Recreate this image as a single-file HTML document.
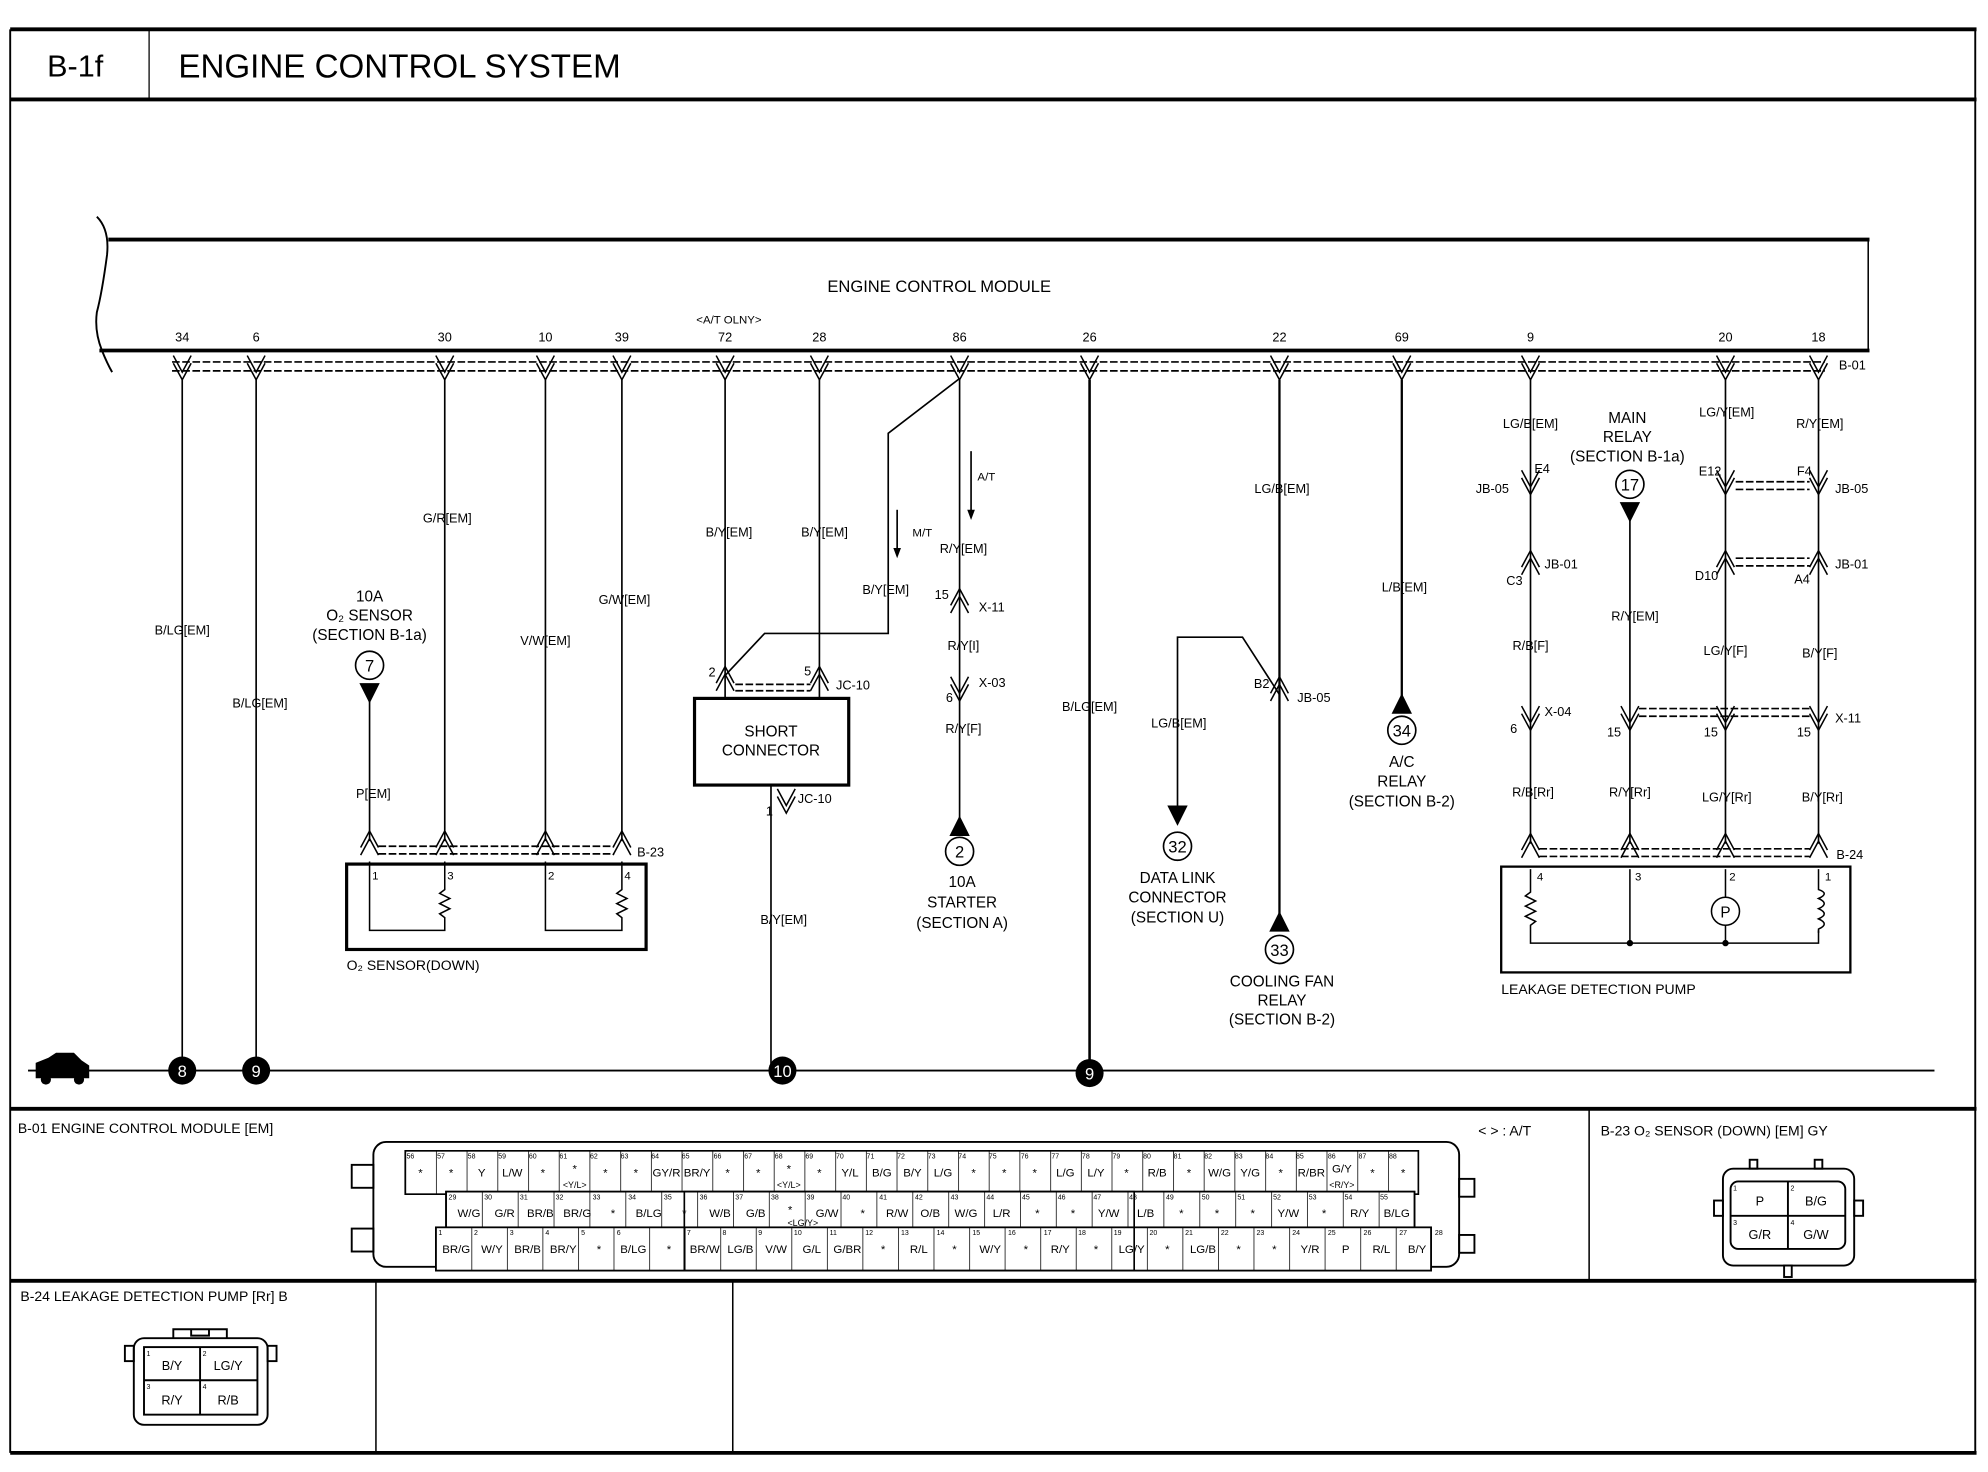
<!DOCTYPE html>
<html><head><meta charset="utf-8"><style>
html,body{margin:0;padding:0;background:#fff;}
svg{display:block;}
text{font-family:"Liberation Sans",sans-serif;fill:#000;}
.t{font-size:10px;text-anchor:middle;}
.s{font-size:12px;text-anchor:middle;}
.l{font-size:10px;text-anchor:start;}
.n{font-size:5.5px;text-anchor:start;}
.c{font-size:9px;text-anchor:middle;}
</style></head><body>
<svg width="1988" height="1472" viewBox="0 0 1560 1155" preserveAspectRatio="none" xmlns="http://www.w3.org/2000/svg">
<defs>
<path id="ch" d="M-7,-7 L0,6 L7,-7 M-7,-1 L0,12 L7,-1" fill="none" stroke="#000" stroke-width="1.2"/>
<path id="cu" d="M-7,7 L0,-6 L7,7 M-7,1 L0,-12 L7,1" fill="none" stroke="#000" stroke-width="1.2"/>
<pattern id="p1" x="318" y="0" width="24.1" height="50" patternUnits="userSpaceOnUse"><line x1="0" y1="0" x2="0" y2="50" stroke="#000" stroke-width="1.2"/></pattern>
<pattern id="p2" x="350" y="0" width="28.15" height="50" patternUnits="userSpaceOnUse"><line x1="0" y1="0" x2="0" y2="50" stroke="#000" stroke-width="1.2"/></pattern>
<pattern id="p3" x="342" y="0" width="27.9" height="50" patternUnits="userSpaceOnUse"><line x1="0" y1="0" x2="0" y2="50" stroke="#000" stroke-width="1.2"/></pattern>
</defs>
<rect width="1560" height="1155" fill="#fff"/>
<!-- frame -->
<g stroke="#000" fill="none">
<line x1="8" y1="23" x2="1551" y2="23" stroke-width="3"/>
<line x1="8" y1="78" x2="1551" y2="78" stroke-width="3"/>
<line x1="8" y1="23" x2="8" y2="1140" stroke-width="1.5"/>
<line x1="1550" y1="23" x2="1550" y2="1140" stroke-width="1.5"/>
<line x1="117" y1="23" x2="117" y2="78" stroke-width="1"/>
<line x1="8" y1="870" x2="1551" y2="870" stroke-width="3"/>
<line x1="8" y1="1005" x2="1551" y2="1005" stroke-width="3"/>
<line x1="8" y1="1140" x2="1551" y2="1140" stroke-width="3"/>
<line x1="1247" y1="870" x2="1247" y2="1005" stroke-width="1.2"/>
<line x1="295" y1="1005" x2="295" y2="1140" stroke-width="1.2"/>
<line x1="575" y1="1005" x2="575" y2="1140" stroke-width="1.2"/>
</g>
<text x="37" y="60" style="font-size:24px">B-1f</text>
<text x="140" y="61" style="font-size:26px">ENGINE CONTROL SYSTEM</text>

<!-- ECM -->
<g stroke="#000" fill="none">
<line x1="85" y1="188" x2="1467" y2="188" stroke-width="3"/>
<line x1="1466" y1="188" x2="1466" y2="275" stroke-width="1.2"/>
<line x1="78" y1="275" x2="1467" y2="275" stroke-width="3"/>
<path d="M76,170 Q86,180 84,200 Q80,230 76,245 Q74,260 80,275 Q84,285 88,292" stroke-width="1.5"/>
<line x1="135" y1="284" x2="1432" y2="284" stroke-width="1.3" stroke-dasharray="6,2"/>
<line x1="135" y1="291" x2="1432" y2="291" stroke-width="1.3" stroke-dasharray="6,2"/>
</g>
<text x="737" y="229" class="s" style="font-size:13px">ENGINE CONTROL MODULE</text>
<text x="572" y="254" class="c">&lt;A/T OLNY&gt;</text>
<g class="t">
<text x="143" y="268">34</text><text x="201" y="268">6</text><text x="349" y="268">30</text><text x="428" y="268">10</text><text x="488" y="268">39</text><text x="569" y="268">72</text><text x="643" y="268">28</text><text x="753" y="268">86</text><text x="855" y="268">26</text><text x="1004" y="268">22</text><text x="1100" y="268">69</text><text x="1201" y="268">9</text><text x="1354" y="268">20</text><text x="1427" y="268">18</text>
</g>
<text x="1443" y="290" class="l">B-01</text>
<g>
<use href="#ch" x="143" y="286"/><use href="#ch" x="201" y="286"/><use href="#ch" x="349" y="286"/><use href="#ch" x="428" y="286"/><use href="#ch" x="488" y="286"/><use href="#ch" x="569" y="286"/><use href="#ch" x="643" y="286"/><use href="#ch" x="753" y="286"/><use href="#ch" x="855" y="286"/><use href="#ch" x="1004" y="286"/><use href="#ch" x="1100" y="286"/><use href="#ch" x="1201" y="286"/><use href="#ch" x="1354" y="286"/><use href="#ch" x="1427" y="286"/>
</g>

<!-- wires -->
<g stroke="#000" fill="none" stroke-width="1.3">
<line x1="143" y1="298" x2="143" y2="840"/>
<line x1="201" y1="298" x2="201" y2="840"/>
<line x1="349" y1="298" x2="349" y2="660"/>
<line x1="428" y1="298" x2="428" y2="660"/>
<line x1="488" y1="298" x2="488" y2="660"/>
<line x1="290" y1="540" x2="290" y2="660"/>
<line x1="569" y1="298" x2="569" y2="548"/>
<line x1="643" y1="298" x2="643" y2="548"/>
<polyline points="753,297 697,340 697,497 600,497 569,530"/>
<line x1="753" y1="298" x2="753" y2="645"/>
<line x1="605" y1="616" x2="605" y2="840"/>
<line x1="855" y1="298" x2="855" y2="840" stroke-width="2"/>
<line x1="1004" y1="298" x2="1004" y2="725" stroke-width="1.8"/>
<polyline points="1004,545 975,500 924,500 924,635"/>
<line x1="1100" y1="298" x2="1100" y2="555" stroke-width="1.8"/>
<line x1="1201" y1="298" x2="1201" y2="662"/>
<line x1="1279" y1="405" x2="1279" y2="662"/>
<line x1="1354" y1="298" x2="1354" y2="662"/>
<line x1="1427" y1="298" x2="1427" y2="662"/>
<line x1="704" y1="400" x2="704" y2="432"/>
<line x1="762" y1="354" x2="762" y2="402"/>
<line x1="22" y1="840" x2="1518" y2="840" stroke-width="1.5"/>
</g>
<path d="M701,430 L704,438 L707,430Z M759,400 L762,408 L765,400Z" fill="#000"/>
<!-- wire labels -->
<g class="t">
<text x="143" y="498">B/LG[EM]</text>
<text x="204" y="555">B/LG[EM]</text>
<text x="351" y="410">G/R[EM]</text>
<text x="428" y="506">V/W[EM]</text>
<text x="490" y="474">G/W[EM]</text>
<text x="293" y="626">P[EM]</text>
<text x="572" y="421">B/Y[EM]</text>
<text x="647" y="421">B/Y[EM]</text>
<text x="695" y="466">B/Y[EM]</text>
<text x="756" y="434">R/Y[EM]</text>
<text x="756" y="510">R/Y[I]</text>
<text x="756" y="575">R/Y[F]</text>
<text x="615" y="725">B/Y[EM]</text>
<text x="855" y="558">B/LG[EM]</text>
<text x="1006" y="387">LG/B[EM]</text>
<text x="925" y="571">LG/B[EM]</text>
<text x="1102" y="464">L/B[EM]</text>
<text x="1201" y="336">LG/B[EM]</text>
<text x="1201" y="510">R/B[F]</text>
<text x="1203" y="625">R/B[Rr]</text>
<text x="1283" y="487">R/Y[EM]</text>
<text x="1279" y="625">R/Y[Rr]</text>
<text x="1355" y="327">LG/Y[EM]</text>
<text x="1354" y="514">LG/Y[F]</text>
<text x="1355" y="629">LG/Y[Rr]</text>
<text x="1428" y="336">R/Y[EM]</text>
<text x="1428" y="516">B/Y[F]</text>
<text x="1430" y="629">B/Y[Rr]</text>
</g>
<text x="716" y="421" class="l" style="font-size:9px">M/T</text>
<text x="767" y="377" class="l" style="font-size:9px">A/T</text>

<!-- inline connectors -->
<use href="#cu" x="753" y="474"/>
<text x="739" y="470" class="t">15</text><text x="768" y="480" class="l">X-11</text>
<use href="#ch" x="753" y="538"/>
<text x="745" y="551" class="t">6</text><text x="768" y="539" class="l">X-03</text>
<use href="#cu" x="1004" y="543"/>
<text x="990" y="540" class="t">B2</text><text x="1018" y="551" class="l">JB-05</text>
<!-- right side connectors -->
<use href="#ch" x="1201" y="376"/><use href="#ch" x="1354" y="376"/><use href="#ch" x="1427" y="376"/>
<use href="#cu" x="1201" y="444"/><use href="#cu" x="1354" y="444"/><use href="#cu" x="1427" y="444"/>
<use href="#ch" x="1201" y="561"/><use href="#ch" x="1279" y="561"/><use href="#ch" x="1354" y="561"/><use href="#ch" x="1427" y="561"/>
<g stroke="#000" stroke-width="1.3" stroke-dasharray="6,2" fill="none">
<line x1="1362" y1="378" x2="1420" y2="378"/><line x1="1362" y1="384" x2="1420" y2="384"/>
<line x1="1362" y1="438" x2="1420" y2="438"/><line x1="1362" y1="444" x2="1420" y2="444"/>
<line x1="1286" y1="556" x2="1420" y2="556"/><line x1="1286" y1="562" x2="1420" y2="562"/>
</g>
<g class="l">
<text x="1204" y="371">E4</text><text x="1158" y="387">JB-05</text>
<text x="1212" y="446">JB-01</text><text x="1182" y="459">C3</text>
<text x="1212" y="562">X-04</text><text x="1185" y="575">6</text>
<text x="1333" y="373">E12</text><text x="1330" y="455">D10</text><text x="1337" y="578">15</text><text x="1261" y="578">15</text>
<text x="1410" y="373">F4</text><text x="1440" y="387">JB-05</text>
<text x="1440" y="446">JB-01</text><text x="1408" y="458">A4</text>
<text x="1440" y="567">X-11</text><text x="1410" y="578">15</text>
</g>

<!-- O2 sensor -->
<use href="#cu" x="290" y="664"/><use href="#cu" x="349" y="664"/><use href="#cu" x="428" y="664"/><use href="#cu" x="488" y="664"/>
<g stroke="#000" stroke-width="1.3" stroke-dasharray="6,2" fill="none">
<line x1="297" y1="664" x2="482" y2="664"/><line x1="297" y1="670" x2="482" y2="670"/>
</g>
<text x="500" y="672" class="l">B-23</text>
<rect x="272" y="678" width="235" height="67" fill="none" stroke="#000" stroke-width="2.5"/>
<g class="l" style="font-size:9px"><text x="292" y="690">1</text><text x="351" y="690">3</text><text x="430" y="690">2</text><text x="490" y="690">4</text></g>
<g stroke="#000" fill="none" stroke-width="1.2">
<polyline points="290,676 290,730 349,730 349,720 345,717 353,713 345,709 353,705 345,701 349,698 349,676"/>
<polyline points="428,676 428,730 488,730 488,720 484,717 492,713 484,709 492,705 484,701 488,698 488,676"/>
</g>
<text x="272" y="761" class="l" style="font-size:11px">O₂ SENSOR(DOWN)</text>
<circle cx="290" cy="522" r="11" fill="#fff" stroke="#000" stroke-width="1.3"/>
<text x="290" y="527" class="s" style="font-size:13px">7</text>
<path d="M282,536 L298,536 L290,552Z" fill="#000"/>
<g class="s"><text x="290" y="472">10A</text><text x="290" y="487">O₂ SENSOR</text><text x="290" y="502">(SECTION B-1a)</text></g>

<!-- short connector -->
<use href="#cu" x="569" y="535"/><use href="#cu" x="643" y="535"/>
<g stroke="#000" stroke-width="1.3" stroke-dasharray="6,2" fill="none">
<line x1="577" y1="537" x2="636" y2="537"/><line x1="577" y1="542" x2="636" y2="542"/>
</g>
<text x="556" y="531" class="l">2</text><text x="631" y="530" class="l">5</text><text x="656" y="541" class="l">JC-10</text>
<rect x="545" y="548" width="121" height="68" fill="#fff" stroke="#000" stroke-width="2.5"/>
<text x="605" y="578" class="s">SHORT</text><text x="605" y="593" class="s">CONNECTOR</text>
<use href="#ch" x="617" y="626"/>
<text x="601" y="640" class="l">1</text><text x="626" y="630" class="l">JC-10</text>

<!-- starter -->
<path d="M745,656 L761,656 L753,640Z" fill="#000"/>
<circle cx="753" cy="668" r="11" fill="#fff" stroke="#000" stroke-width="1.3"/>
<text x="753" y="673" class="s" style="font-size:13px">2</text>
<g class="s"><text x="755" y="696">10A</text><text x="755" y="712">STARTER</text><text x="755" y="728">(SECTION A)</text></g>

<!-- data link -->
<path d="M916,632 L932,632 L924,648Z" fill="#000"/>
<circle cx="924" cy="664" r="11" fill="#fff" stroke="#000" stroke-width="1.3"/>
<text x="924" y="669" class="s" style="font-size:13px">32</text>
<g class="s"><text x="924" y="693">DATA LINK</text><text x="924" y="708">CONNECTOR</text><text x="924" y="724">(SECTION U)</text></g>
<!-- cooling fan -->
<path d="M996,731 L1012,731 L1004,715Z" fill="#000"/>
<circle cx="1004" cy="745" r="11" fill="#fff" stroke="#000" stroke-width="1.3"/>
<text x="1004" y="750" class="s" style="font-size:13px">33</text>
<g class="s"><text x="1006" y="774">COOLING FAN</text><text x="1006" y="789">RELAY</text><text x="1006" y="804">(SECTION B-2)</text></g>
<!-- A/C relay -->
<path d="M1092,560 L1108,560 L1100,544Z" fill="#000"/>
<circle cx="1100" cy="573" r="11" fill="#fff" stroke="#000" stroke-width="1.3"/>
<text x="1100" y="578" class="s" style="font-size:13px">34</text>
<g class="s"><text x="1100" y="602">A/C</text><text x="1100" y="617">RELAY</text><text x="1100" y="633">(SECTION B-2)</text></g>
<!-- main relay -->
<circle cx="1279" cy="380" r="11" fill="#fff" stroke="#000" stroke-width="1.3"/>
<text x="1279" y="385" class="s" style="font-size:13px">17</text>
<path d="M1271,394 L1287,394 L1279,410Z" fill="#000"/>
<g class="s"><text x="1277" y="332">MAIN</text><text x="1277" y="347">RELAY</text><text x="1277" y="362">(SECTION B-1a)</text></g>

<!-- leakage pump -->
<use href="#cu" x="1201" y="666"/><use href="#cu" x="1279" y="666"/><use href="#cu" x="1354" y="666"/><use href="#cu" x="1427" y="666"/>
<g stroke="#000" stroke-width="1.3" stroke-dasharray="6,2" fill="none">
<line x1="1208" y1="666" x2="1420" y2="666"/><line x1="1208" y1="672" x2="1420" y2="672"/>
</g>
<text x="1441" y="674" class="l">B-24</text>
<rect x="1178" y="680" width="274" height="83" fill="none" stroke="#000" stroke-width="1.8"/>
<g class="l" style="font-size:9px"><text x="1206" y="691">4</text><text x="1283" y="691">3</text><text x="1357" y="691">2</text><text x="1432" y="691">1</text></g>
<g stroke="#000" fill="none" stroke-width="1.2">
<polyline points="1201,682 1201,700 1197,703 1205,707 1197,711 1205,715 1197,719 1205,723 1201,726 1201,740 1427,740 1427,730"/>
<line x1="1279" y1="682" x2="1279" y2="740"/>
<line x1="1354" y1="682" x2="1354" y2="704"/><line x1="1354" y1="726" x2="1354" y2="740"/>
<circle cx="1354" cy="715" r="11"/>
<path d="M1427,682 L1427,698 Q1436,701 1427,705 Q1436,709 1427,713 Q1436,717 1427,721 Q1436,725 1427,729 L1427,732"/>
</g>
<circle cx="1279" cy="740" r="2.5" fill="#000"/><circle cx="1354" cy="740" r="2.5" fill="#000"/>
<text x="1354" y="720" class="s">P</text>
<text x="1178" y="780" class="l" style="font-size:11px">LEAKAGE DETECTION PUMP</text>

<!-- ground nodes -->
<path d="M28,846 L28,834 L38,830 L44,826 L58,826 L64,832 L70,836 L70,846Z" fill="#000"/>
<circle cx="36" cy="847" r="4" fill="#000"/><circle cx="62" cy="847" r="4" fill="#000"/>
<g>
<circle cx="143" cy="840" r="11" fill="#000"/><text x="143" y="845" class="s" style="fill:#fff;font-size:13px">8</text>
<circle cx="201" cy="840" r="11" fill="#000"/><text x="201" y="845" class="s" style="fill:#fff;font-size:13px">9</text>
<circle cx="614" cy="840" r="11" fill="#000"/><text x="614" y="845" class="s" style="fill:#fff;font-size:13px">10</text>
<circle cx="855" cy="842" r="11" fill="#000"/><text x="855" y="847" class="s" style="fill:#fff;font-size:13px">9</text>
</g>

<!-- bottom panels -->
<text x="14" y="889" class="l" style="font-size:11px">B-01 ENGINE CONTROL MODULE [EM]</text>
<text x="1160" y="891" class="l" style="font-size:11px">&lt;   &gt; : A/T</text>
<text x="1256" y="891" class="l" style="font-size:11px">B-23 O₂ SENSOR (DOWN) [EM] GY</text>
<text x="16" y="1021" class="l" style="font-size:11px">B-24 LEAKAGE DETECTION PUMP [Rr] B</text>

<!-- B-01 connector -->
<g stroke="#000" fill="none" stroke-width="1.5">
<rect x="293" y="896" width="852" height="98" rx="10"/>
<rect x="276" y="914" width="17" height="18"/><rect x="276" y="964" width="17" height="18"/>
<rect x="1145" y="925" width="12" height="14"/><rect x="1145" y="969" width="12" height="14"/>
</g>
<rect x="318" y="903" width="795" height="34" fill="url(#p1)" stroke="#000" stroke-width="1.3"/>
<rect x="350" y="935" width="760" height="33" fill="#fff" stroke="#000" stroke-width="1.3"/>
<rect x="350" y="935" width="760" height="33" fill="url(#p2)" stroke="#000" stroke-width="1.3"/>
<rect x="342" y="963" width="781" height="34" fill="#fff" stroke="#000" stroke-width="1.3"/>
<rect x="342" y="963" width="781" height="34" fill="url(#p3)" stroke="#000" stroke-width="1.3"/>
<rect x="537" y="935" width="353" height="62" fill="none" stroke="#000" stroke-width="1.3"/>
<g class="c">
<text x="330" y="923">*</text><text x="354" y="923">*</text><text x="378" y="923">Y</text><text x="402" y="923">L/W</text><text x="426" y="923">*</text><text x="451" y="920">*</text><text x="475" y="923">*</text><text x="499" y="923">*</text><text x="523" y="923">GY/R</text><text x="547" y="923">BR/Y</text><text x="571" y="923">*</text><text x="595" y="923">*</text><text x="619" y="920">*</text><text x="643" y="923">*</text><text x="667" y="923">Y/L</text><text x="692" y="923">B/G</text><text x="716" y="923">B/Y</text><text x="740" y="923">L/G</text><text x="764" y="923">*</text><text x="788" y="923">*</text><text x="812" y="923">*</text><text x="836" y="923">L/G</text><text x="860" y="923">L/Y</text><text x="884" y="923">*</text><text x="908" y="923">R/B</text><text x="933" y="923">*</text><text x="957" y="923">W/G</text><text x="981" y="923">Y/G</text><text x="1005" y="923">*</text><text x="1029" y="923">R/BR</text><text x="1053" y="920">G/Y</text><text x="1077" y="923">*</text><text x="1101" y="923">*</text>
</g>
<g class="c" style="font-size:7px"><text x="451" y="932">&lt;Y/L&gt;</text><text x="619" y="932">&lt;Y/L&gt;</text><text x="1053" y="932">&lt;R/Y&gt;</text></g>
<g class="c">
<text x="368" y="955">W/G</text><text x="396" y="955">G/R</text><text x="424" y="955">BR/B</text><text x="453" y="955">BR/G</text><text x="481" y="955">*</text><text x="509" y="955">B/LG</text><text x="537" y="955">*</text><text x="565" y="955">W/B</text><text x="593" y="955">G/B</text><text x="620" y="952">*</text><text x="649" y="955">G/W</text><text x="677" y="955">*</text><text x="704" y="955">R/W</text><text x="730" y="955">O/B</text><text x="758" y="955">W/G</text><text x="786" y="955">L/R</text><text x="814" y="955">*</text><text x="842" y="955">*</text><text x="870" y="955">Y/W</text><text x="899" y="955">L/B</text><text x="927" y="955">*</text><text x="955" y="955">*</text><text x="983" y="955">*</text><text x="1011" y="955">Y/W</text><text x="1039" y="955">*</text><text x="1067" y="955">R/Y</text><text x="1096" y="955">B/LG</text>
</g>
<text x="630" y="962" class="c" style="font-size:7px">&lt;LG/Y&gt;</text>
<g class="c">
<text x="358" y="983">BR/G</text><text x="386" y="983">W/Y</text><text x="414" y="983">BR/B</text><text x="442" y="983">BR/Y</text><text x="470" y="983">*</text><text x="497" y="983">B/LG</text><text x="525" y="983">*</text><text x="553" y="983">BR/W</text><text x="581" y="983">LG/B</text><text x="609" y="983">V/W</text><text x="637" y="983">G/L</text><text x="665" y="983">G/BR</text><text x="693" y="983">*</text><text x="721" y="983">R/L</text><text x="749" y="983">*</text><text x="777" y="983">W/Y</text><text x="805" y="983">*</text><text x="832" y="983">R/Y</text><text x="860" y="983">*</text><text x="888" y="983">LG/Y</text><text x="916" y="983">*</text><text x="944" y="983">LG/B</text><text x="972" y="983">*</text><text x="1000" y="983">*</text><text x="1028" y="983">Y/R</text><text x="1056" y="983">P</text><text x="1084" y="983">R/L</text><text x="1112" y="983">B/Y</text>
</g>
<g class="n">
<text x="319" y="909">56</text><text x="343" y="909">57</text><text x="367" y="909">58</text><text x="391" y="909">59</text><text x="415" y="909">60</text><text x="439" y="909">61</text><text x="463" y="909">62</text><text x="487" y="909">63</text><text x="511" y="909">64</text><text x="535" y="909">65</text><text x="560" y="909">66</text><text x="584" y="909">67</text><text x="608" y="909">68</text><text x="632" y="909">69</text><text x="656" y="909">70</text><text x="680" y="909">71</text><text x="704" y="909">72</text><text x="728" y="909">73</text><text x="752" y="909">74</text><text x="776" y="909">75</text><text x="801" y="909">76</text><text x="825" y="909">77</text><text x="849" y="909">78</text><text x="873" y="909">79</text><text x="897" y="909">80</text><text x="921" y="909">81</text><text x="945" y="909">82</text><text x="969" y="909">83</text><text x="993" y="909">84</text><text x="1017" y="909">85</text><text x="1042" y="909">86</text><text x="1066" y="909">87</text><text x="1090" y="909">88</text>
<text x="352" y="941">29</text><text x="380" y="941">30</text><text x="408" y="941">31</text><text x="436" y="941">32</text><text x="465" y="941">33</text><text x="493" y="941">34</text><text x="521" y="941">35</text><text x="549" y="941">36</text><text x="577" y="941">37</text><text x="605" y="941">38</text><text x="633" y="941">39</text><text x="661" y="941">40</text><text x="690" y="941">41</text><text x="718" y="941">42</text><text x="746" y="941">43</text><text x="774" y="941">44</text><text x="802" y="941">45</text><text x="830" y="941">46</text><text x="858" y="941">47</text><text x="886" y="941">48</text><text x="915" y="941">49</text><text x="943" y="941">50</text><text x="971" y="941">51</text><text x="999" y="941">52</text><text x="1027" y="941">53</text><text x="1055" y="941">54</text><text x="1083" y="941">55</text>
<text x="344" y="969">1</text><text x="372" y="969">2</text><text x="400" y="969">3</text><text x="428" y="969">4</text><text x="456" y="969">5</text><text x="484" y="969">6</text><text x="539" y="969">7</text><text x="567" y="969">8</text><text x="595" y="969">9</text><text x="623" y="969">10</text><text x="651" y="969">11</text><text x="679" y="969">12</text><text x="707" y="969">13</text><text x="735" y="969">14</text><text x="763" y="969">15</text><text x="791" y="969">16</text><text x="819" y="969">17</text><text x="846" y="969">18</text><text x="874" y="969">19</text><text x="902" y="969">20</text><text x="930" y="969">21</text><text x="958" y="969">22</text><text x="986" y="969">23</text><text x="1014" y="969">24</text><text x="1042" y="969">25</text><text x="1070" y="969">26</text><text x="1098" y="969">27</text><text x="1126" y="969">28</text>
</g>

<!-- B-23 connector -->
<g stroke="#000" fill="none" stroke-width="1.5">
<rect x="1352" y="917" width="103" height="76" rx="8"/>
<rect x="1358" y="927" width="90" height="53" rx="6"/>
<line x1="1403" y1="927" x2="1403" y2="980"/><line x1="1358" y1="954" x2="1448" y2="954"/>
<rect x="1373" y="910" width="6" height="7"/><rect x="1424" y="910" width="6" height="7"/>
<rect x="1345" y="942" width="7" height="12"/><rect x="1455" y="942" width="7" height="12"/>
<rect x="1400" y="993" width="6" height="9"/>
</g>
<g class="c" style="font-size:10px"><text x="1381" y="946">P</text><text x="1425" y="946">B/G</text><text x="1381" y="972">G/R</text><text x="1425" y="972">G/W</text></g>
<g class="n"><text x="1360" y="934">1</text><text x="1405" y="934">2</text><text x="1360" y="961">3</text><text x="1405" y="961">4</text></g>

<!-- B-24 connector -->
<g stroke="#000" fill="none" stroke-width="1.5">
<rect x="105" y="1050" width="105" height="68" rx="8"/>
<rect x="113" y="1057" width="89" height="53"/>
<line x1="157" y1="1057" x2="157" y2="1110"/><line x1="113" y1="1083" x2="202" y2="1083"/>
<path d="M136,1050 L136,1043 L178,1043 L178,1050 M150,1043 L150,1048 L164,1048 L164,1043"/>
<rect x="98" y="1056" width="7" height="12"/><rect x="210" y="1056" width="7" height="12"/>
</g>
<g class="c" style="font-size:10px"><text x="135" y="1075">B/Y</text><text x="179" y="1075">LG/Y</text><text x="135" y="1102">R/Y</text><text x="179" y="1102">R/B</text></g>
<g class="n"><text x="115" y="1064">1</text><text x="159" y="1064">2</text><text x="115" y="1090">3</text><text x="159" y="1090">4</text></g>
</svg>
</body></html>
